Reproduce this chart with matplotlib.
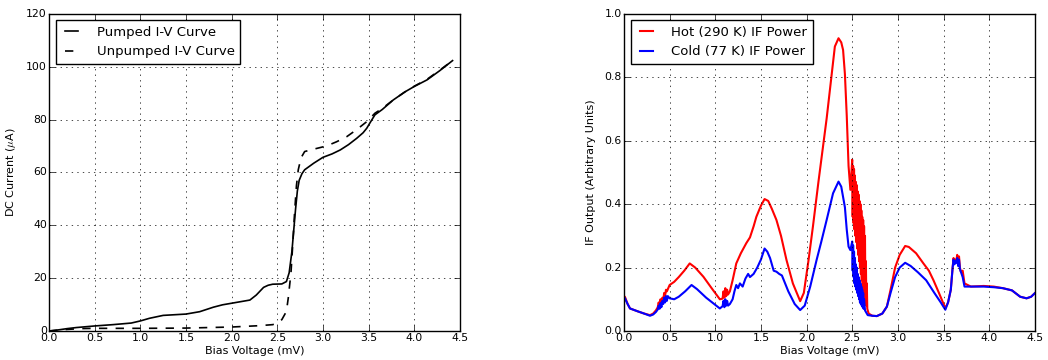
import numpy as np
import matplotlib
matplotlib.use('Agg')
import matplotlib.pyplot as plt

plt.style.use('classic')
plt.rcParams['font.size'] = 8
plt.rcParams['font.family'] = ['DejaVu Sans']
plt.rcParams['xtick.labelsize'] = 7.8
plt.rcParams['ytick.labelsize'] = 7.8
plt.rcParams['xtick.major.pad'] = 1.5
plt.rcParams['ytick.major.pad'] = 1.5

# left panel: DC I-V curves (bias in mV, current in uA)
v_pumped = [0.0, 0.1, 0.2, 0.3, 0.5, 0.7, 0.9, 1.0, 1.1, 1.25, 1.4, 1.5, 1.65, 1.8,
            1.9, 2.0, 2.1, 2.2, 2.27, 2.35, 2.4, 2.45, 2.55, 2.6, 2.63, 2.66, 2.68,
            2.7, 2.72, 2.74, 2.77, 2.8, 2.9, 3.0, 3.1, 3.19, 3.28, 3.37, 3.44,
            3.48, 3.52, 3.57, 3.65, 3.77, 3.9, 4.0, 4.14, 4.28, 4.42]
i_pumped = [0.0, 0.4, 0.9, 1.3, 1.9, 2.4, 3.0, 3.8, 4.8, 5.9, 6.2, 6.4, 7.3, 9.0,
            9.9, 10.5, 11.1, 11.7, 13.6, 16.5, 17.3, 17.7, 17.8, 18.7, 22.0, 30.0,
            38.0, 46.0, 53.0, 57.0, 59.5, 61.0, 63.5, 65.7, 67.0, 68.5, 70.5, 72.9,
            75.0, 76.7, 79.0, 81.8, 83.8, 87.4, 90.5, 92.5, 95.0, 98.5, 102.3]

v_unpumped = [0.0, 0.2, 0.35, 0.5, 1.0, 1.5, 2.0, 2.3, 2.45, 2.5, 2.55, 2.6, 2.62,
              2.65, 2.67, 2.69, 2.71, 2.73, 2.76, 2.8, 2.9, 3.04, 3.15, 3.26, 3.37,
              3.48, 3.57, 3.65, 3.77, 3.9, 4.0, 4.14, 4.28, 4.42]
i_unpumped = [0.0, 0.6, 0.9, 1.0, 1.0, 1.1, 1.5, 2.0, 2.4, 3.0, 4.3, 7.4, 12.4,
              22.0, 33.0, 45.0, 55.0, 61.0, 65.5, 67.9, 68.8, 70.0, 71.6, 73.5, 76.2,
              79.2, 82.4, 84.2, 87.4, 90.5, 92.6, 95.2, 98.7, 102.3]

# right panel: IF output power (arbitrary units)
v_hot = [0.0, 0.01, 0.02, 0.04, 0.066, 0.15, 0.22, 0.285, 0.32, 0.35, 0.37, 0.38,
         0.39, 0.40, 0.41, 0.42, 0.43, 0.44, 0.45, 0.46, 0.47, 0.5, 0.55, 0.6,
         0.66, 0.72, 0.78, 0.87, 0.96, 1.05, 1.08, 1.09, 1.1, 1.11, 1.12, 1.13,
         1.14, 1.16, 1.19, 1.23, 1.28, 1.34, 1.38, 1.42, 1.45, 1.5, 1.54, 1.58,
         1.62, 1.67, 1.72, 1.78, 1.85, 1.93, 1.97, 2.02, 2.07, 2.13, 2.18, 2.22,
         2.26, 2.31, 2.35, 2.38, 2.40, 2.42, 2.44, 2.46, 2.48,
         2.500, 2.505, 2.510, 2.515, 2.520, 2.525, 2.530, 2.535, 2.540, 2.545,
         2.550, 2.555, 2.560, 2.565, 2.570, 2.575, 2.580, 2.585, 2.590, 2.595,
         2.600, 2.605, 2.610, 2.615, 2.620, 2.625, 2.630, 2.635, 2.640, 2.645,
         2.650, 2.655, 2.660, 2.665,
         2.68, 2.72, 2.77, 2.83, 2.88, 2.92, 2.97,
         3.02, 3.08, 3.12, 3.2, 3.28, 3.34, 3.39, 3.45, 3.52, 3.55, 3.58,
         3.6, 3.61, 3.62, 3.63, 3.64, 3.65, 3.66, 3.67, 3.68, 3.69, 3.71, 3.73,
         3.8, 3.94, 4.05, 4.15, 4.25, 4.34, 4.41, 4.46, 4.5]
p_hot = [0.105, 0.108, 0.1, 0.085, 0.071, 0.062, 0.055, 0.05, 0.055, 0.065, 0.075, 0.09,
         0.078, 0.1, 0.085, 0.105, 0.095, 0.12, 0.11, 0.13, 0.125, 0.145, 0.155, 0.17,
         0.19, 0.213, 0.2, 0.171, 0.135, 0.1, 0.102, 0.125, 0.105, 0.135, 0.11, 0.13,
         0.115, 0.125, 0.16, 0.213, 0.245, 0.277, 0.295, 0.33, 0.36, 0.395, 0.416, 0.41,
         0.385, 0.35, 0.3, 0.224, 0.15, 0.094, 0.12, 0.22, 0.33, 0.47, 0.58, 0.67,
         0.77, 0.897, 0.923, 0.91, 0.886, 0.81, 0.68, 0.52, 0.445,
         0.54, 0.36, 0.52, 0.34, 0.51, 0.32, 0.49, 0.30, 0.47, 0.28,
         0.46, 0.26, 0.44, 0.24, 0.43, 0.22, 0.41, 0.20, 0.40, 0.18,
         0.38, 0.16, 0.36, 0.14, 0.35, 0.12, 0.33, 0.10, 0.30, 0.09,
         0.22, 0.08, 0.15, 0.07,
         0.055, 0.048, 0.047, 0.055, 0.077, 0.13, 0.2,
         0.24, 0.268, 0.265, 0.245, 0.213, 0.19, 0.16, 0.12, 0.072, 0.09, 0.13,
         0.2, 0.23, 0.215, 0.225, 0.22, 0.24, 0.21, 0.235, 0.2, 0.187, 0.19, 0.15,
         0.14, 0.142, 0.14, 0.135, 0.128, 0.108, 0.103, 0.108, 0.119]

v_cold = [0.0, 0.01, 0.02, 0.04, 0.066, 0.15, 0.22, 0.285, 0.32, 0.35, 0.37, 0.38,
          0.39, 0.40, 0.41, 0.42, 0.43, 0.44, 0.45, 0.46, 0.47, 0.48, 0.5, 0.55,
          0.6, 0.67, 0.74, 0.8, 0.9, 1.05, 1.08, 1.09, 1.1, 1.11, 1.12, 1.13, 1.14,
          1.16, 1.19, 1.21, 1.23, 1.25, 1.27, 1.3, 1.33, 1.36, 1.38, 1.42, 1.46,
          1.5, 1.54, 1.57, 1.6, 1.64, 1.67, 1.7, 1.73, 1.8, 1.87, 1.93, 1.98,
          2.04, 2.11, 2.16, 2.22, 2.29, 2.35, 2.38, 2.42, 2.44, 2.46, 2.48,
          2.500, 2.505, 2.510, 2.515, 2.520, 2.525, 2.530, 2.535, 2.540, 2.545,
          2.550, 2.555, 2.560, 2.565, 2.570, 2.575, 2.580, 2.585, 2.590, 2.595,
          2.600, 2.605, 2.610, 2.615, 2.620, 2.625, 2.630, 2.640, 2.650, 2.67,
          2.72, 2.77, 2.83, 2.88, 2.92, 2.97, 3.02, 3.08, 3.14, 3.22, 3.31, 3.4,
          3.47, 3.52, 3.55, 3.58, 3.6, 3.61, 3.62, 3.63, 3.64, 3.65, 3.66, 3.67,
          3.68, 3.69, 3.71, 3.73, 3.8, 3.94, 4.05, 4.15, 4.25, 4.34, 4.41, 4.46,
          4.5]
p_cold = [0.1, 0.104, 0.097, 0.085, 0.071, 0.062, 0.055, 0.048, 0.052, 0.06, 0.068, 0.08,
          0.07, 0.088, 0.075, 0.095, 0.085, 0.105, 0.09, 0.11, 0.095, 0.11, 0.103, 0.1,
          0.108, 0.125, 0.145, 0.132, 0.105, 0.071, 0.078, 0.095, 0.075, 0.1, 0.08, 0.095, 0.08,
          0.085, 0.1, 0.125, 0.145, 0.135, 0.15, 0.14, 0.165, 0.18, 0.17, 0.18, 0.2,
          0.225, 0.26, 0.25, 0.23, 0.19, 0.187, 0.18, 0.175, 0.125, 0.085, 0.066, 0.08,
          0.14, 0.224, 0.28, 0.35, 0.434, 0.471, 0.455, 0.39, 0.32, 0.266, 0.255,
          0.282, 0.19, 0.27, 0.17, 0.25, 0.15, 0.23, 0.14, 0.21, 0.13,
          0.20, 0.12, 0.18, 0.11, 0.17, 0.10, 0.16, 0.09, 0.15, 0.085,
          0.14, 0.08, 0.13, 0.075, 0.12, 0.07, 0.10, 0.065, 0.06, 0.05,
          0.048, 0.047, 0.055, 0.077, 0.12, 0.17, 0.2, 0.215, 0.205, 0.185, 0.16, 0.12,
          0.09, 0.067, 0.09, 0.13, 0.2, 0.225, 0.21, 0.22, 0.215, 0.23, 0.205, 0.225,
          0.195, 0.187, 0.17, 0.14, 0.14, 0.14, 0.138, 0.135, 0.128, 0.108, 0.103, 0.108,
          0.119]

fig = plt.figure(figsize=(10.48, 3.6), dpi=100, facecolor='white')

ax1 = fig.add_axes([0.0468, 0.0806, 0.392, 0.881])
ax1.plot(v_pumped, i_pumped, 'k-', lw=1.2, label='Pumped I-V Curve')
ax1.plot(v_unpumped, i_unpumped, 'k--', lw=1.2, label='Unpumped I-V Curve')
ax1.set_xlim(0, 4.5)
ax1.set_ylim(0, 120)
ax1.set_xlabel('Bias Voltage (mV)', labelpad=2)
ax1.set_ylabel(r'DC Current ($\mu$A)', labelpad=6)
ax1.grid(True)
ax1.legend(loc='upper left', fontsize=9.5, handlelength=1.6, handletextpad=1.1)

ax2 = fig.add_axes([0.5954, 0.0806, 0.392, 0.881])
ax2.plot(v_hot, p_hot, 'r-', lw=1.5, label='Hot (290 K) IF Power')
ax2.plot(v_cold, p_cold, 'b-', lw=1.5, label='Cold (77 K) IF Power')
ax2.set_xlim(0, 4.5)
ax2.set_ylim(0, 1.0)
ax2.set_xlabel('Bias Voltage (mV)', labelpad=2)
ax2.set_ylabel('IF Output (Arbitrary Units)', labelpad=6)
ax2.grid(True)
ax2.legend(loc='upper left', fontsize=9.5, handlelength=1.6, handletextpad=1.1)

fig.savefig('out.png', dpi=100, facecolor='white')
